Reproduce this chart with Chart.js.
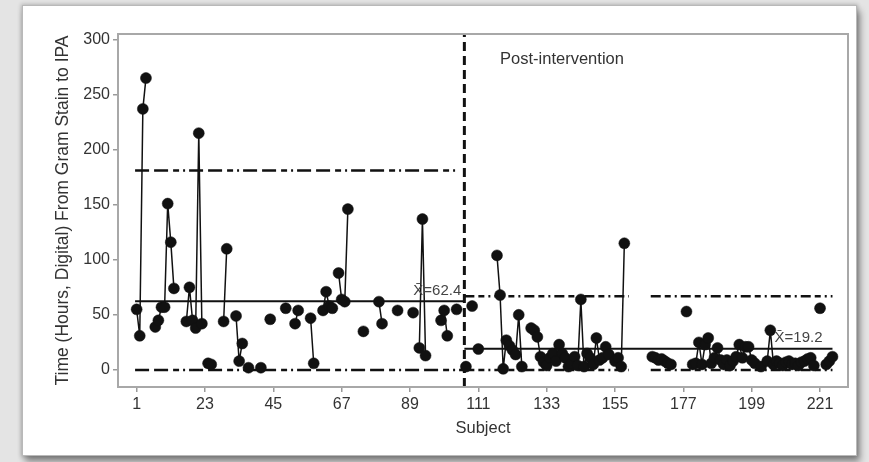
<!DOCTYPE html>
<html>
<head>
<meta charset="utf-8">
<script src="https://cdn.jsdelivr.net/npm/chart.js@4.4.1/dist/chart.umd.min.js"></script>
<style>
  html, body { margin: 0; padding: 0; }
  body { width: 869px; height: 462px; background: #e4e4e4; position: relative; overflow: hidden; }
  .card {
    position: absolute; left: 22px; top: 5px; width: 833px; height: 449px;
    background: #fff; border: 1px solid #b9b9b9;
    box-shadow: 0 0 4px 1px rgba(0, 0, 0, 0.2), 3px 6px 7px rgba(0, 0, 0, 0.4);
  }
  #chart { position: absolute; left: 0; top: 0; }
</style>
</head>
<body>
<div class="card"></div>
<canvas id="chart" width="869" height="462"></canvas>
<script>
// hours from Gram stain to IPA, one entry per subject (null = no value)
const values = [
  55, 31, 237, 265, null, null, 39, 45, 57, 57,
  151, 116, 74, null, null, null, 44, 75, 45, 38,
  215, 42, null, 6, 5, null, null, null, 44, 110,
  null, null, 49, 8, 24, null, 2, null, null, null,
  2, null, null, 46, null, null, null, null, 56, null,
  null, 42, 54, null, null, null, 47, 6, null, null,
  54, 71, 58, 56, null, 88, 64, 62, 146, null,
  null, null, null, 35, null, null, null, null, 62, 42,
  null, null, null, null, 54, null, null, null, null, 52,
  null, 20, 137, 13, null, null, null, null, 45, 54,
  31, null, null, 55, null, null, 3, null, 58, null,
  19, null, null, null, null, null, 104, 68, 1, 27,
  22, 18, 14, 50, 3, null, null, 38, 36, 30,
  12, 7, 4, 11, 15, 8, 23, 15, 11, 3,
  6, 12, 4, 64, 3, 15, 11, 5, 29, 9,
  11, 21, 14, null, 8, 11, 3, 115, null, null,
  null, null, null, null, null, null, 12, 11, 9, 10,
  8, 6, 5, null, null, null, null, 53, null, 5,
  6, 25, 5, 23, 29, 6, 11, 20, 9, 5,
  9, 4, 8, 12, 23, 11, 21, 21, 9, 6,
  null, 3, null, 8, 36, 5, 8, 6, 4, 7,
  8, 5, 6, 4, 7, 8, 10, 11, 4, null,
  56, null, 5, 8, 12,
];
const subjects = values.map((_, i) => i + 1);

const xTicks = [1, 23, 45, 67, 89, 111, 133, 155, 177, 199, 221];
const yTicks = [0, 50, 100, 150, 200, 250, 300];

const interventionAt = 106.5;
const preSpan = [0.5, 106.5];
const postSpan = [106.5, 225];
const preMean = 62.4;
const preUcl = 181;
const preLcl = 0;
const postMean = 19.2;
const postUcl = 67;
const postLcl = 0;
const postLimitGap = [159.5, 166.5];

const meanLabels = [
  { text: "X\u0304=62.4", at: 105.5, value: preMean },
  { text: "X\u0304=19.2", at: 221.8, value: postMean },
];
const phaseLabel = { text: "Post-intervention", at: 118, value: 282 };

const FONT = "'Liberation Sans', Arial, sans-serif";
const INK = "#111";

const flatLine = (span, level) => [
  { x: span[0], y: level },
  { x: span[1], y: level },
];
const gappedLine = (span, gap, level) => [
  { x: span[0], y: level },
  { x: gap[0], y: level },
  { x: (gap[0] + gap[1]) / 2, y: null },
  { x: gap[1], y: level },
  { x: span[1], y: level },
];

const limitStyle = (dash, width) => ({
  type: "line",
  borderColor: INK,
  borderWidth: width,
  borderDash: dash,
  pointRadius: 0,
  spanGaps: false,
  order: 2,
});

const framePlugin = {
  id: "frame",
  afterDraw(chart) {
    const { ctx, chartArea: a, scales } = chart;
    ctx.save();
    ctx.strokeStyle = "#a8a8a8";
    ctx.lineWidth = 2;
    ctx.strokeRect(a.left, a.top, a.right - a.left, a.bottom - a.top);

    ctx.fillStyle = "#333";
    ctx.font = "16.5px " + FONT;
    ctx.textAlign = "left";
    ctx.textBaseline = "middle";
    ctx.fillText(
      phaseLabel.text,
      scales.x.getPixelForValue(phaseLabel.at),
      scales.y.getPixelForValue(phaseLabel.value),
    );

    ctx.font = "15px " + FONT;
    ctx.fillStyle = "#444";
    ctx.textAlign = "right";
    ctx.textBaseline = "bottom";
    meanLabels.forEach((label) => {
      ctx.fillText(
        label.text,
        scales.x.getPixelForValue(label.at),
        scales.y.getPixelForValue(label.value) - 3,
      );
    });
    ctx.restore();
  },
};

const axisScale = (tickValues) => ({
  type: "linear",
  grid: {
    drawOnChartArea: false,
    drawTicks: true,
    tickLength: 5,
    color: "#9a9a9a",
    lineWidth: 1.5,
  },
  border: { display: true, color: "#a8a8a8", width: 2 },
  ticks: {
    color: "#333",
    padding: 3,
    font: { family: FONT, size: 16 },
  },
  afterBuildTicks: (scale) => {
    scale.ticks = tickValues.map((value) => ({ value }));
  },
});

const xScale = axisScale(xTicks);
xScale.min = -5;
xScale.max = 230;
xScale.title = {
  display: true,
  text: "Subject",
  color: "#333",
  font: { family: FONT, size: 16.5 },
};
xScale.afterFit = (scale) => {
  scale.height = 55;
};

const yScale = axisScale(yTicks);
yScale.min = -15.5;
yScale.max = 305;
yScale.title = {
  display: true,
  text: "Time (Hours, Digital) From Gram Stain to IPA",
  color: "#333",
  font: { family: FONT, size: 17.5 },
};
yScale.afterFit = (scale) => {
  scale.width = 69;
};

new Chart(document.getElementById("chart"), {
  type: "line",
  data: {
    datasets: [
      {
        data: subjects.map((s, i) => ({ x: s, y: values[i] })),
        borderColor: INK,
        borderWidth: 1.5,
        pointRadius: 5.5,
        pointBackgroundColor: INK,
        pointBorderColor: INK,
        pointBorderWidth: 0.5,
        spanGaps: false,
        tension: 0,
        order: 0,
      },
      {
        data: [
          { x: interventionAt, y: -15.5 },
          { x: interventionAt, y: 305 },
        ],
        ...limitStyle([9, 5], 3),
        order: 1,
      },
      { data: flatLine(preSpan, preMean), ...limitStyle([], 2) },
      { data: flatLine([preSpan[0], 104.5], preUcl), ...limitStyle([14, 5, 14, 5, 6, 4, 2, 4], 2.5) },
      { data: flatLine(preSpan, preLcl), ...limitStyle([14, 5, 14, 5, 6, 4, 2, 4], 2.5) },
      { data: flatLine(postSpan, postMean), ...limitStyle([], 2) },
      { data: gappedLine(postSpan, postLimitGap, postUcl), ...limitStyle([10, 4, 6, 4, 2, 4], 2.5) },
      { data: gappedLine(postSpan, postLimitGap, postLcl), ...limitStyle([10, 4, 6, 4, 2, 4], 2.5) },
    ],
  },
  options: {
    responsive: false,
    animation: false,
    layout: { padding: { left: 49, right: 21, top: 34, bottom: 20 } },
    plugins: {
      legend: { display: false },
      tooltip: { enabled: false },
    },
    scales: { x: xScale, y: yScale },
  },
  plugins: [framePlugin],
});
</script>
</body>
</html>
